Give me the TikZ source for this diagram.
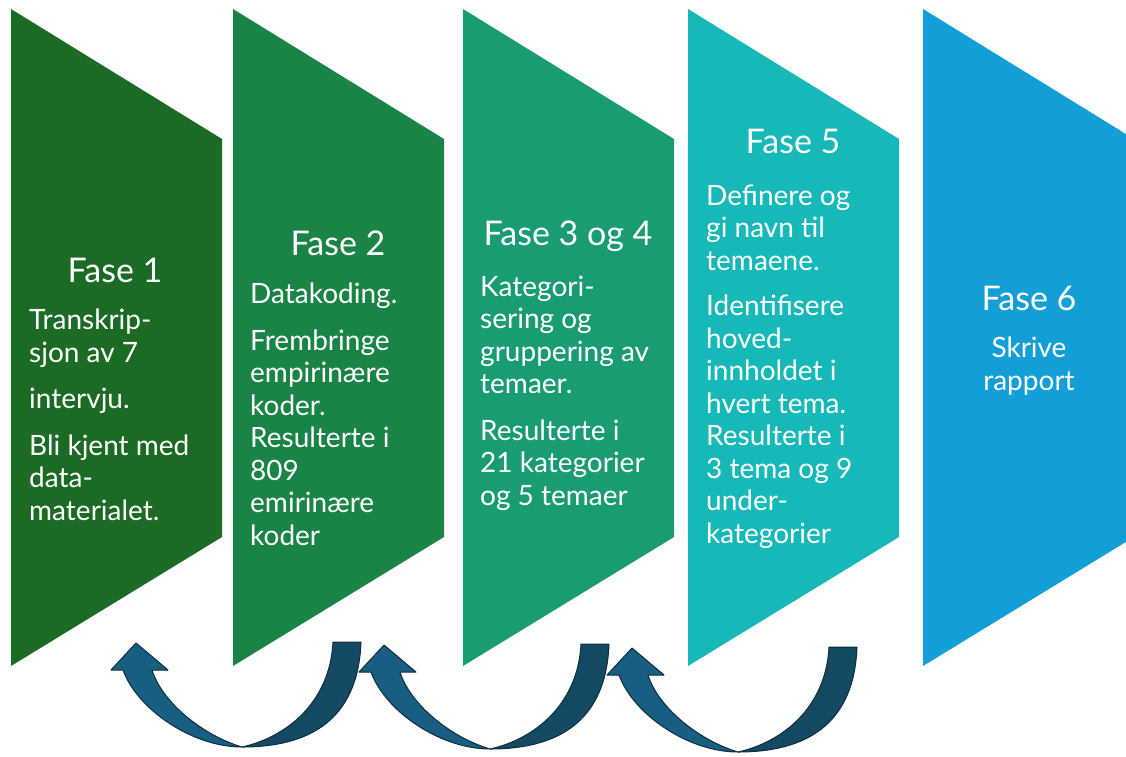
\documentclass[tikz,border=0pt]{standalone}
\usepackage{fontspec}
\setmainfont{Lato}

\definecolor{fase1}{HTML}{1C6B24}
\definecolor{fase2}{HTML}{1A8447}
\definecolor{fase3}{HTML}{199C71}
\definecolor{fase5}{HTML}{16B8B8}
\definecolor{fase6}{HTML}{129ED6}
\definecolor{bandfront}{HTML}{175E82}
\definecolor{bandback}{HTML}{144963}
\definecolor{bandline}{HTML}{0C2E3E}

\tikzset{
  fasetitle/.style={text=white, inner sep=0pt, anchor=base, font=\fontsize{34}{38}\selectfont},
  fasetext/.style={text=white, inner sep=0pt, anchor=base west, align=left, font=\fontsize{28}{32.5}\selectfont},
  loopband/.style={draw=bandline, line width=1pt, line join=round},
}

\begin{document}
\begin{tikzpicture}[x=1pt, y=-1pt]
\useasboundingbox (0,0) rectangle (1126,756);
\clip (0,0) rectangle (1126,756);

% the five phase blocks
\foreach \x/\c in {11/fase1, 233/fase2, 463/fase3, 688/fase5, 923/fase6}
  \fill[\c] (\x,9) -- (\x+211,139) -- (\x+211,537) -- (\x,666) -- cycle;

% texts, the body nodes sit on the baseline of their last line
\node[fasetitle] (f1) at (115,282) {Fase 1};
\node[fasetext] (t1) at (29,520) {Transkrip-\\sjon av 7\\[14pt]intervju.\\[14pt]Bli kjent med\\data-\\materialet.};

\node[fasetitle] (f2) at (338,255) {Fase 2};
\node[fasetext] (t2) at (250,545) {Datakoding.\\[14pt]Frembringe\\empirinære\\koder.\\Resulterte i\\809\\emirinære\\koder};

\node[fasetitle] (f34) at (568,245) {Fase 3 og 4};
\node[fasetext] (t34) at (480,505) {Kategori-\\sering og\\gruppering av\\temaer.\\[14pt]Resulterte i\\21 kategorier\\og 5 temaer};

\node[fasetitle] (f5) at (793,153) {Fase 5};
\node[fasetext] (t5) at (706,543) {Definere og\\gi navn til\\temaene.\\[13pt]Identifisere\\hoved-\\innholdet i\\hvert tema.\\Resulterte i\\3 tema og 9\\under-\\kategorier};

\node[fasetitle] (f6) at (1029,310) {Fase 6};
\node[fasetext, anchor=base, align=center] (t6) at (1029,390) {Skrive\\rapport};

% curved arrows back to the previous phase
\foreach \bx/\by in {242/747, 490/749, 738/752} {
  \begin{scope}[shift={(\bx,\by)}]
    \fill[bandback, loopband] (119,-105) .. controls (116,-25) and (65,0) .. (0,0)
      .. controls (45,-10) and (88,-45) .. (91,-105) -- cycle;	%back of the band
    \fill[bandfront, loopband] (-119,-77) .. controls (-105,-38) and (-50,0) .. (0,0)
      .. controls (-40,-12) and (-80,-45) .. (-90,-77) -- (-74,-77) -- (-106,-104)
      -- (-131,-77) -- cycle;	%front with the head
  \end{scope}
}

\end{tikzpicture}
\end{document}
